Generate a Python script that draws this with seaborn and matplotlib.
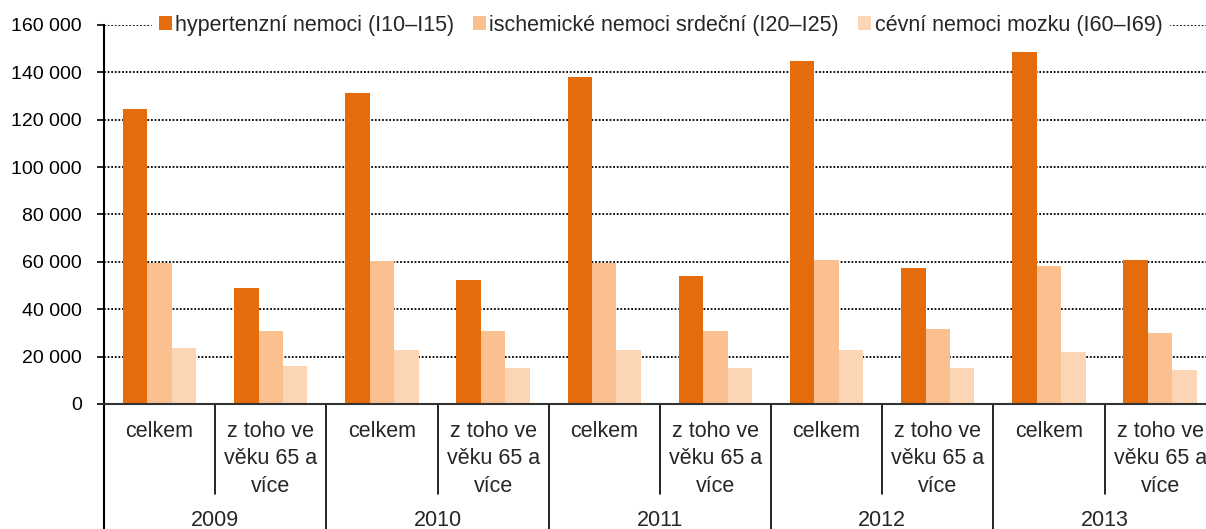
import matplotlib
matplotlib.use('Agg')
import matplotlib.pyplot as plt
import seaborn as sns
import pandas as pd
from matplotlib.ticker import FuncFormatter, MultipleLocator

years = ['2009', '2010', '2011', '2012', '2013']
subgroups = ['celkem', 'z toho ve\nvěku 65 a\nvíce']
series = ['hypertenzní nemoci (I10–I15)',
          'ischemické nemoci srdeční (I20–I25)',
          'cévní nemoci mozku (I60–I69)']
hyper = [124500, 49100, 131400, 52400, 138000, 54200, 144600, 57600, 148800, 60800]
isch = [59500, 30800, 60500, 30800, 59500, 30800, 60800, 31600, 58300, 30000]
cevni = [23600, 16100, 22800, 15300, 22800, 15300, 22800, 15300, 22000, 14400]
colors = ['#E46C0A', '#FAC090', '#FCD5B5']

keys = [f"{y}|{s}" for y in years for s in subgroups]
rows = []
for name, vals in zip(series, [hyper, isch, cevni]):
    for k, v in zip(keys, vals):
        rows.append({'key': k, 'series': name, 'value': v})
df = pd.DataFrame(rows)

sns.set_style('white')
plt.rcParams['font.family'] = ['Liberation Sans', 'DejaVu Sans']
FS = 14
FS2 = 15.5

W, H = 1206, 529
fig = plt.figure(figsize=(W / 100, H / 100), dpi=100)
ax_left, ax_top, ax_bottom = 104, 25, 404
ax = fig.add_axes([ax_left / W, 1 - ax_bottom / H, (W - ax_left) / W, (ax_bottom - ax_top) / H])

sns.barplot(data=df, x='key', y='value', hue='series', order=keys, hue_order=series,
            palette=colors, width=0.66, gap=0, saturation=1, linewidth=0, ax=ax)

ax.set_xlim(-0.5, 9.413)
ax.set_ylim(0, 160000)
ax.yaxis.set_major_locator(MultipleLocator(20000))
ax.yaxis.set_major_formatter(FuncFormatter(lambda v, p: f"{int(v):,}".replace(',', ' ')))
ax.set_xlabel('')
ax.set_ylabel('')
ax.tick_params(axis='x', bottom=False, labelbottom=False)
ax.tick_params(axis='y', left=True, direction='out', length=5, width=1.2, color='black',
               labelsize=FS, pad=11, labelcolor='black')
ax.set_axisbelow(True)
ax.yaxis.grid(True, linestyle=(0, (1, 1)), color='black', lw=1.3)
ax.xaxis.grid(False)
for s in ['top', 'right']:
    ax.spines[s].set_visible(False)
ax.spines['left'].set_color('black')
ax.spines['left'].set_linewidth(1.5)
ax.spines['bottom'].set_color('#333333')
ax.spines['bottom'].set_linewidth(1.5)

axh = ax_bottom - ax_top
def yax(py):
    return (ax_bottom - py) / axh

trans = ax.get_xaxis_transform()
# left spine extension
ax.plot([-0.5, -0.5], [0, yax(H + 2)], transform=trans, color='black', lw=1.5, clip_on=False)
for i in range(1, len(keys)):
    x = i - 0.5
    bottom = yax(H + 2) if i % 2 == 0 else yax(494)
    ax.plot([x, x], [0, bottom], transform=trans, color='black', lw=1.2, clip_on=False)

for i, k in enumerate(keys):
    sub = k.split('|')[1]
    ax.text(i, yax(421), sub, transform=trans, ha='center', va='top', fontsize=FS2,
            linespacing=1.4, clip_on=False)
for j, y in enumerate(years):
    ax.text(2 * j + 0.5, yax(520), y, transform=trans, ha='center', va='center',
            fontsize=FS2, clip_on=False)

handles, labels = ax.get_legend_handles_labels()
leg = ax.legend(handles, labels, loc='center', bbox_to_anchor=(0.505, 1.0), ncol=3,
                frameon=True, facecolor='white', edgecolor='white', framealpha=1,
                fancybox=False, handlelength=0.6, handleheight=0.6, handletextpad=0.15,
                columnspacing=0.9, borderpad=0.3, borderaxespad=0, fontsize=FS2)
leg.set_zorder(10)

fig.savefig('out.png', dpi=100)
